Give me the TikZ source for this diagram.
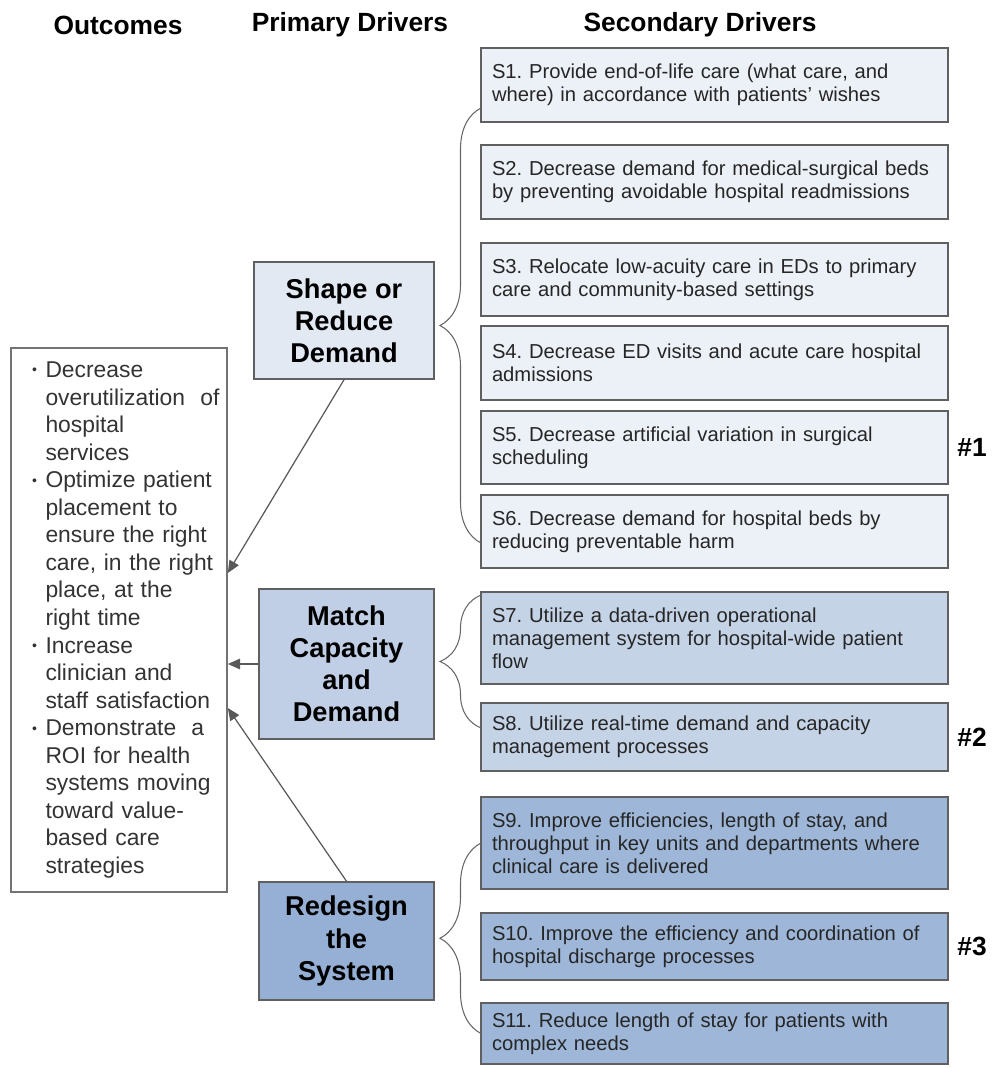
\documentclass[tikz,border=0pt]{standalone}
\usepackage{fontspec}
\setmainfont{Liberation Sans}
\usetikzlibrary{positioning,arrows.meta,decorations.pathreplacing}

\definecolor{lightblue}{RGB}{236,241,247}
\definecolor{paleblue}{RGB}{226,233,243}
\definecolor{midblue}{RGB}{197,211,231}
\definecolor{matchblue}{RGB}{192,207,229}
\definecolor{darkblue}{RGB}{158,183,216}
\definecolor{deepblue}{RGB}{149,176,212}
\definecolor{edge}{RGB}{96,96,96}

\newcommand{\bul}{\makebox[0.27cm][l]{\raisebox{1.5pt}{\fontsize{8}{8}\selectfont\textbullet}}}

\begin{document}
\frenchspacing
\begin{tikzpicture}[node distance=0.46cm,
    hdr/.style={inner sep=0pt, font=\fontsize{15}{18}\selectfont\bfseries},
    prim/.style={rectangle, draw=edge, line width=0.9pt, align=center, font=\fontsize{15.5}{18.3}\selectfont\bfseries},
    sec/.style={rectangle, draw=edge, line width=0.8pt, outer sep=0pt, minimum width=9.34cm, text width=8.9cm, inner xsep=0.22cm, align=left, text=black!85, font=\fontsize{11.5}{13.2}\selectfont},
    tag/.style={inner sep=0pt, font=\fontsize{15}{18}\selectfont\bfseries},
    link/.style={draw=black!65, line width=0.7pt, -{Triangle[length=7pt,width=6pt]}},
    curl/.style={draw=black!60, line width=0.6pt, decorate, decoration={brace, amplitude=#1}}]
    \useasboundingbox (0,0) rectangle (20,-21.36);

    % Headers
    \node [hdr] (hout) at (2.36,-0.5) {Outcomes};
    \node [hdr] (hprim) at (7.0,-0.5) {Primary Drivers};
    \node [hdr] (hsec) at (14.0,-0.5) {Secondary Drivers};

    % Outcomes
    \node [rectangle, draw=black!55, line width=0.9pt, minimum width=4.32cm, minimum height=10.88cm, text width=3.48cm, inner xsep=0.42cm, align=left, text=black!80, font=\fontsize{13}{15.68}\selectfont] (outcome) at (2.38,-12.4) {%
        \begin{tabular}{@{}l@{}l@{}}
        \bul & Decrease\\
             & overutilization\ \ of\\
             & hospital\\
             & services\\
        \bul & Optimize patient\\
             & placement to\\
             & ensure the right\\
             & care, in the right\\
             & place, at the\\
             & right time\\
        \bul & Increase\\
             & clinician and\\
             & staff satisfaction\\
        \bul & Demonstrate\ \ a\\
             & ROI for health\\
             & systems moving\\
             & toward value-\\
             & based care\\
             & strategies
        \end{tabular}};

    % Primary drivers
    \node [prim, fill=paleblue, minimum width=3.6cm, minimum height=2.34cm] (shape) at (6.88,-6.41) {Shape or\\Reduce\\Demand};
    \node [prim, fill=matchblue, minimum width=3.5cm, minimum height=3.0cm] (match) at (6.93,-13.28) {Match\\Capacity\\and\\Demand};
    \node [prim, fill=deepblue, minimum width=3.5cm, minimum height=2.36cm] (redesign) at (6.93,-18.82) {Redesign\\the\\System};

    % Secondary drivers
    \node [sec, fill=lightblue, minimum height=1.48cm, anchor=north west] (s1) at (9.62,-0.96) {S1. Provide end-of-life care (what care, and\\where) in accordance with patients’ wishes};
    \node [sec, fill=lightblue, minimum height=1.48cm, below=0.46cm of s1] (s2) {S2. Decrease demand for medical-surgical beds\\by preventing avoidable hospital readmissions};
    \node [sec, fill=lightblue, minimum height=1.46cm, below=0.48cm of s2] (s3) {S3. Relocate low-acuity care in EDs to primary\\care and community-based settings};
    \node [sec, fill=lightblue, minimum height=1.48cm, below=0.2cm of s3] (s4) {S4. Decrease ED visits and acute care hospital\\admissions};
    \node [sec, fill=lightblue, minimum height=1.46cm, below=0.22cm of s4] (s5) {S5. Decrease artificial variation in surgical\\scheduling};
    \node [sec, fill=lightblue, minimum height=1.46cm, below=0.22cm of s5] (s6) {S6. Decrease demand for hospital beds by\\reducing preventable harm};
    \node [sec, fill=midblue, minimum height=1.84cm, below=0.48cm of s6] (s7) {S7. Utilize a data-driven operational\\management system for hospital-wide patient\\flow};
    \node [sec, fill=midblue, minimum height=1.36cm, below=0.38cm of s7] (s8) {S8. Utilize real-time demand and capacity\\management processes};
    \node [sec, fill=darkblue, minimum height=1.84cm, below=0.52cm of s8] (s9) {S9. Improve efficiencies, length of stay, and\\throughput in key units and departments where\\clinical care is delivered};
    \node [sec, fill=darkblue, minimum height=1.34cm, below=0.48cm of s9] (s10) {S10. Improve the efficiency and coordination of\\hospital discharge processes};
    \node [sec, fill=darkblue, minimum height=1.22cm, below=0.46cm of s10] (s11) {S11. Reduce length of stay for patients with\\complex needs};

    % Arrows
    \draw [link] (shape.south) -- ([yshift=0.94cm]outcome.east);
    \draw [link] (match.west) -- (match.west -| outcome.east);
    \draw [link] (redesign.north) -- ([yshift=-1.76cm]outcome.east);

    % Braces
    \draw [curl=0.82cm] ([yshift=-0.23cm]s6.west) -- ([yshift=-0.46cm]s1.west);
    \draw [curl=0.82cm] ([yshift=0.18cm]s8.west) -- ([yshift=0.86cm]s7.west);
    \draw [curl=0.82cm] (s11.west) -- (s9.west);

    % Labels
    \node [tag, right=0.18cm of s5] (one) {\#1};
    \node [tag, right=0.18cm of s8] (two) {\#2};
    \node [tag, right=0.18cm of s10] (three) {\#3};
\end{tikzpicture}
\end{document}
